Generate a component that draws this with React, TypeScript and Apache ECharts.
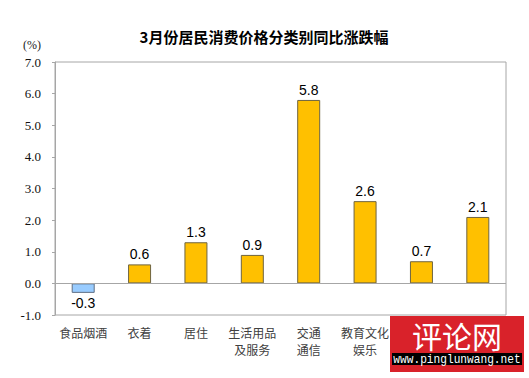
import React, { useEffect, useRef } from "react";
import * as echarts from "echarts";

const titleText = "3月份居民消费价格分类别同比涨跌幅";
const unitLabel = "(%)";
const categories = [
  "食品烟酒",
  "衣着",
  "居住",
  "生活用品\n及服务",
  "交通\n通信",
  "教育文化\n娱乐",
  "医疗\n保健",
  "其他用品\n和服务",
];
const values = [-0.3, 0.6, 1.3, 0.9, 5.8, 2.6, 0.7, 2.1];
const yMin = -1;
const yMax = 7;
const yInterval = 1;

export default function App() {
  const ref = useRef<HTMLDivElement>(null);
  useEffect(() => {
    if (!ref.current) return;
    const chart = echarts.init(ref.current, null, { renderer: "svg" });
    chart.setOption({
      animation: false,
      backgroundColor: "#ffffff",
      grid: {
        left: 55,
        right: 23,
        top: 62,
        bottom: 63,
        show: true,
        borderColor: "#a6a6a6",
        borderWidth: 1,
        backgroundColor: "transparent",
      },
      xAxis: {
        type: "category",
        data: categories,
        axisLine: { show: false, onZero: false },
        axisTick: { show: false },
        axisLabel: {
          color: "#404040",
          fontFamily: "Noto Sans CJK SC",
          fontSize: 12,
          lineHeight: 17,
          margin: 9,
          interval: 0,
        },
        splitLine: { show: false },
      },
      yAxis: {
        type: "value",
        min: yMin,
        max: yMax,
        interval: yInterval,
        axisLine: { show: true, lineStyle: { color: "#a6a6a6" } },
        axisTick: { show: true, length: 3, lineStyle: { color: "#a6a6a6" } },
        axisLabel: {
          color: "#111",
          fontFamily: "Liberation Serif",
          fontSize: 13,
          margin: 14,
          formatter: (v: number) => v.toFixed(1),
        },
        splitLine: { show: false },
      },
      title: {
        text: titleText,
        left: 259,
        top: 24,
        textAlign: "center",
        textStyle: {
          fontFamily: "Noto Sans CJK SC",
          fontSize: 15,
          fontWeight: "bold",
          color: "#000",
        },
      },
      graphic: [
        {
          type: "text",
          left: 23,
          top: 39,
          style: {
            text: unitLabel,
            font: "12px 'Liberation Serif'",
            fill: "#222",
          },
        },
        {
          type: "rect",
          z: 100,
          shape: { x: 390, y: 316, width: 134, height: 56 },
          style: { fill: "#d9222a" },
        },
        {
          type: "text",
          z: 101,
          x: 457,
          y: 335,
          style: {
            text: "评论网",
            font: "30px 'Noto Sans CJK SC'",
            fill: "#ffffff",
            align: "center",
            verticalAlign: "middle",
          },
        },
        {
          type: "rect",
          z: 101,
          shape: { x: 392, y: 353, width: 130, height: 12 },
          style: { fill: "#000000" },
        },
        {
          type: "text",
          z: 102,
          x: 457,
          y: 359.5,
          scaleX: 0.86,
          originX: 0,
          style: {
            text: "www.pinglunwang.net",
            font: "13px 'Liberation Mono'",
            fill: "#ffffff",
            align: "center",
            verticalAlign: "middle",
          },
        },
      ],
      series: [
        {
          type: "bar",
          barWidth: 23,
          data: values.map((v) => ({
            value: v,
            itemStyle: {
              color: v < 0 ? "#99ccff" : "#ffc000",
              borderColor: v < 0 ? "#5f6f85" : "#6e6440",
              borderWidth: 1,
            },
            label: {
              position: v < 0 ? "bottom" : "top",
            },
          })),
          label: {
            show: true,
            distance: 3,
            color: "#000",
            fontFamily: "Liberation Sans",
            fontSize: 14,
            formatter: (p: any) => p.value.toFixed(1),
          },
          markLine: {
            silent: true,
            symbol: "none",
            label: { show: false },
            lineStyle: { color: "#a6a6a6", type: "solid", width: 1 },
            data: [{ yAxis: 0 }],
          },
        },
      ],
    });
    return () => chart.dispose();
  }, []);
  return (
    <div
      ref={ref}
      style={{ position: "fixed", left: 0, top: 0, width: 529, height: 378 }}
    />
  );
}
